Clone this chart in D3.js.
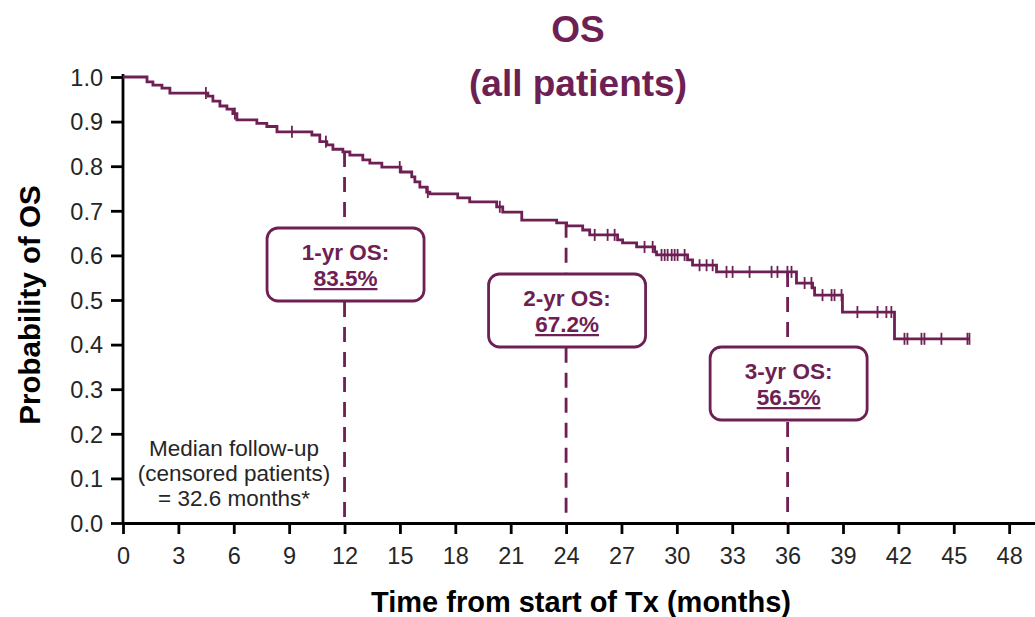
<!DOCTYPE html>
<html>
<head>
<meta charset="utf-8">
<script src="https://cdn.jsdelivr.net/npm/d3@7"></script>
<style>
  html, body { margin: 0; padding: 0; background: #fff; }
  svg { display: block; font-family: "Liberation Sans", Arial, sans-serif; }
</style>
</head>
<body>
<svg id="chart" width="1035" height="617"></svg>
<script>
// Kaplan–Meier overall survival, all patients
// Event steps: [month, survival probability after the drop]
const eventSteps = [
  [1.30, 0.989], [1.62, 0.982], [2.11, 0.975], [2.54, 0.964],
  [4.60, 0.957], [4.87, 0.946], [5.25, 0.935], [5.63, 0.928], [5.95, 0.918],
  [6.17, 0.904], [7.25, 0.896], [7.79, 0.889], [8.34, 0.877],
  [10.23, 0.870], [10.66, 0.855], [11.04, 0.848], [11.37, 0.838], [11.91, 0.832],
  [12.29, 0.825], [12.99, 0.814], [13.37, 0.807], [14.02, 0.798],
  [15.05, 0.787], [15.64, 0.776], [15.81, 0.765], [16.08, 0.753], [16.45, 0.742],
  [16.62, 0.738], [18.13, 0.729], [18.78, 0.720], [20.24, 0.709], [20.57, 0.697],
  [21.60, 0.679], [23.49, 0.673], [24.03, 0.666], [24.90, 0.657], [25.28, 0.646],
  [26.79, 0.635], [27.06, 0.628], [27.82, 0.619], [28.80, 0.608], [28.90, 0.601],
  [30.58, 0.590], [30.85, 0.578], [32.15, 0.563], [36.48, 0.538], [37.35, 0.527],
  [37.46, 0.511], [38.97, 0.473], [41.79, 0.413]
];
// Censoring times (months)
const censorTimes = [
  4.49, 6.06, 9.15, 10.99, 14.99, 16.51, 20.41,
  25.55, 26.25, 26.63, 28.25, 28.69,
  29.17, 29.34, 29.50, 29.72, 29.88, 30.04, 30.42,
  31.23, 31.61, 31.94, 32.69, 33.02, 33.94, 35.13, 35.45, 35.99, 36.21,
  36.92, 37.29, 37.89, 38.38, 38.54, 38.92,
  39.78, 40.87, 41.35, 41.62,
  42.33, 42.49, 43.25, 43.41, 44.33, 45.74
];
const lastFollowUp = 45.85;

const xTicks = d3.range(0, 49, 3);
const yTicks = d3.range(0, 1.01, 0.1);

// Landmark survival estimates
const landmarks = [
  { month: 12, label: "1-yr OS:", value: 83.5 },
  { month: 24, label: "2-yr OS:", value: 67.2 },
  { month: 36, label: "3-yr OS:", value: 56.5 }
];
const followUpLines = ["Median follow-up", "(censored patients)", "= 32.6 months*"];

const plum = "#6e1f54";
const svg = d3.select("#chart");

const x = d3.scaleLinear().domain([0, 49.4]).range([123, 1035]);
const y = d3.scaleLinear().domain([0, 1]).range([523, 77]);

// survival value at time t
function survivalAt(t) {
  let s = 1;
  for (const [m, v] of eventSteps) { if (m <= t) s = v; else break; }
  return s;
}

// Title
svg.append("text").attr("x", 578).attr("y", 42).attr("text-anchor", "middle")
  .attr("font-size", 37).attr("font-weight", "bold").attr("fill", plum).text("OS");
svg.append("text").attr("x", 578).attr("y", 96).attr("text-anchor", "middle")
  .attr("font-size", 37).attr("font-weight", "bold").attr("fill", plum).text("(all patients)");

// Axes
const xAxis = svg.append("g").attr("transform", `translate(0,${y(0)})`)
  .call(d3.axisBottom(x).tickValues(xTicks).tickFormat(d3.format("d")).tickSize(11).tickSizeOuter(0));
const yAxis = svg.append("g").attr("transform", `translate(${x(0)},0)`)
  .call(d3.axisLeft(y).tickValues(yTicks).tickFormat(d3.format(".1f")).tickSize(12).tickSizeOuter(0));
[xAxis, yAxis].forEach(g => {
  g.select(".domain").attr("stroke", "#000").attr("stroke-width", 2.8);
  g.selectAll(".tick line").attr("stroke", "#000").attr("stroke-width", 2.8);
  g.selectAll(".tick text").attr("fill", "#262626").attr("font-size", 23.5)
    .attr("font-family", "'Liberation Sans', Arial, sans-serif");
});
xAxis.selectAll(".tick text").attr("y", 0).attr("dy", 0)
  .attr("transform", "translate(0,41)");
yAxis.selectAll(".tick text").attr("x", -20).attr("dy", "0.35em");
yAxis.select(".domain").attr("d", `M0,${y(1) - 3}V${y(0)}`);

// Axis titles
svg.append("text").attr("x", 581).attr("y", 612).attr("text-anchor", "middle")
  .attr("font-size", 29).attr("font-weight", "bold").attr("fill", "#000")
  .text("Time from start of Tx (months)");
svg.append("text").attr("transform", `translate(40,${y(0.5) + 5}) rotate(-90)`)
  .attr("text-anchor", "middle").attr("font-size", 29.5).attr("font-weight", "bold")
  .attr("fill", "#000").text("Probability of OS");

// Dashed landmark lines
svg.append("g").selectAll("line").data(landmarks).join("line")
  .attr("x1", d => x(d.month)).attr("x2", d => x(d.month))
  .attr("y1", d => y(survivalAt(d.month))).attr("y2", y(0))
  .attr("stroke", plum).attr("stroke-width", 2.8).attr("stroke-dasharray", "15,10");

// KM step curve
const pts = [[0, 1]];
let prev = 1;
for (const [m, v] of eventSteps) { pts.push([m, prev]); pts.push([m, v]); prev = v; }
pts.push([lastFollowUp, prev]);
svg.append("path")
  .attr("d", d3.line().x(d => x(d[0])).y(d => y(d[1]))(pts))
  .attr("fill", "none").attr("stroke", plum).attr("stroke-width", 2.8);

// Censor marks
svg.append("g").selectAll("line").data(censorTimes.concat([lastFollowUp])).join("line")
  .attr("x1", d => x(d)).attr("x2", d => x(d))
  .attr("y1", d => y(survivalAt(d)) - 6).attr("y2", d => y(survivalAt(d)) + 6)
  .attr("stroke", plum).attr("stroke-width", 1.8);

// Landmark boxes
const boxW = 157, boxH = 73;
const boxTop = [228, 274, 347];
const box = svg.append("g").selectAll("g").data(landmarks).join("g")
  .attr("transform", (d, i) => `translate(${x(d.month) - boxW / 2 + 1},${boxTop[i]})`);
box.append("rect").attr("width", boxW).attr("height", boxH).attr("rx", 11).attr("ry", 11)
  .attr("fill", "#fff").attr("stroke", plum).attr("stroke-width", 2.8);
box.append("text").attr("x", boxW / 2).attr("y", 32).attr("text-anchor", "middle")
  .attr("font-size", 22.5).attr("font-weight", "bold").attr("fill", plum).text(d => d.label);
box.append("text").attr("x", boxW / 2).attr("y", 58).attr("text-anchor", "middle")
  .attr("font-size", 22.5).attr("font-weight", "bold").attr("fill", plum)
  .attr("text-decoration", "underline").text(d => d.value.toFixed(1) + "%");

// Follow-up note
svg.append("g").selectAll("text").data(followUpLines).join("text")
  .attr("x", 234).attr("y", (d, i) => 456 + i * 25).attr("text-anchor", "middle")
  .attr("font-size", 22.5).attr("fill", "#262626").text(d => d);
</script>
</body>
</html>
